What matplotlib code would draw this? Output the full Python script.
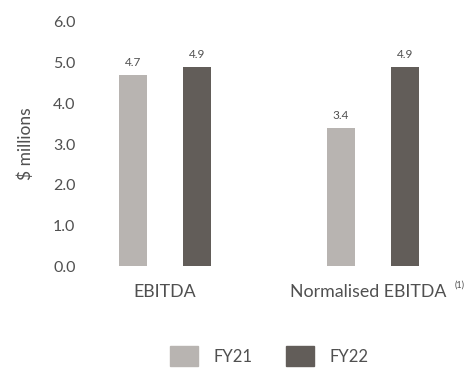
import numpy as np
import matplotlib.pyplot as plt
from matplotlib.patches import Patch
from matplotlib.transforms import ScaledTranslation

categories = ["EBITDA", "Normalised EBITDA"]
fy21 = [4.7, 3.4]
fy22 = [4.9, 4.9]
series_names = ["FY21", "FY22"]
yticks = [0.0, 1.0, 2.0, 3.0, 4.0, 5.0, 6.0]

c21 = "#b8b4b1"
c22 = "#625d59"
txt = "#505050"

plt.rcParams['font.family'] = ['Lato', 'DejaVu Sans']

fig = plt.figure(figsize=(4.68, 3.69), dpi=100)
ax = fig.add_axes([0.203, 0.279, 0.7585, 0.6614])

x = np.arange(len(categories))
off = 0.154
w = 0.135
b1 = ax.bar(x - off, fy21, w, color=c21)
b2 = ax.bar(x + off, fy22, w, color=c22)

for bars, vals in ((b1, fy21), (b2, fy22)):
    for r, v in zip(bars, vals):
        ax.text(r.get_x() + r.get_width() / 2, v + 0.17, f"{v:.1f}",
                ha="center", va="bottom", fontsize=8.5, color=txt)

ax.set_xlim(-0.3365, 1.37)
ax.set_ylim(0, 6)
ax.set_yticks(yticks)
ax.set_yticklabels([f"{t:.1f}" for t in yticks], fontsize=11.5, color=txt)
ax.set_xticks(x)
ax.set_xticklabels(categories, fontsize=12.8, color=txt)
ax.tick_params(axis="y", length=0, pad=14)
ax.tick_params(axis="x", length=0, pad=13)
for s in ax.spines.values():
    s.set_visible(False)

# shift second category label a little left to leave room for the footnote mark
lbl = ax.get_xticklabels()[1]
lbl.set_transform(lbl.get_transform() + ScaledTranslation(-0.045, 0, fig.dpi_scale_trans))

# footnote marker on second category
ax.annotate("(1)", xy=(1, 0), xycoords=("data", "axes fraction"),
            xytext=(62, -13.5), textcoords="offset points",
            fontsize=6.5, color=txt, ha="center", va="center")

ax.set_ylabel("$ millions", fontsize=12.5, color=txt, labelpad=14)

handles = [Patch(color=c21), Patch(color=c22)]
fig.legend(handles, series_names, loc="center", bbox_to_anchor=(0.575, 0.035),
           ncol=2, frameon=False, fontsize=12, labelcolor=txt,
           handlelength=1.7, handleheight=1.4, handletextpad=0.9,
           columnspacing=2.0)

fig.savefig("out.png", dpi=100)
